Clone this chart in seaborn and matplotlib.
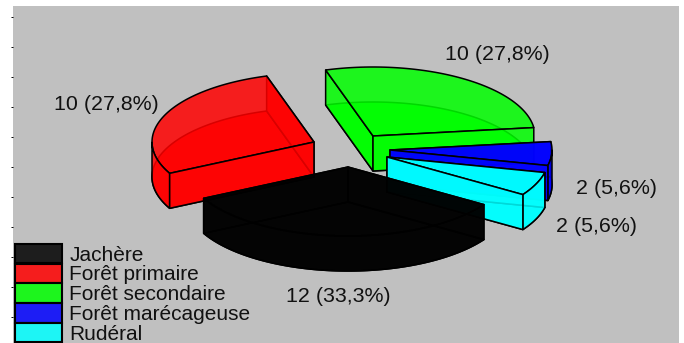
import numpy as np
import matplotlib
matplotlib.use("Agg")
import matplotlib.pyplot as plt
from matplotlib.colors import to_rgba
from matplotlib.patches import Polygon, Patch
import seaborn as sns

categories = ["Jachère", "Forêt primaire", "Forêt secondaire", "Forêt marécageuse", "Rudéral"]
counts = [12, 10, 10, 2, 2]
percent_labels = ["12 (33,3%)", "10 (27,8%)", "10 (27,8%)", "2 (5,6%)", "2 (5,6%)"]
slice_colors = ["#000000", "#ff0000", "#00ff00", "#0000ff", "#00ffff"]

# Pie geometry, in panel pixels
RX, RY, DEPTH = 162, 69, 35
START_ANGLE = -33.0
centers = [(348, 167), (314, 142), (373, 136), (390, 150), (387, 157)]
label_spots = [(338, 296), (106, 104), (497, 55), (616, 189), (596, 227)]
draw_order = [1, 2, 3, 4, 0]
ALPHA = 0.85
LW = 1.1

sns.set_theme(style="white", rc={"font.family": ["Liberation Sans", "DejaVu Sans"]})
fig = plt.figure(figsize=(6.84, 3.43), dpi=100, facecolor="white")
ax = fig.add_axes([13 / 684, 0, 665.5 / 684, 337 / 343])
ax.set_facecolor("#c0c0c0")
ax.set_xlim(13, 678.5)
ax.set_ylim(343, 6)
for side in ax.spines.values():
    side.set_visible(False)
ax.set_xticks([])
ax.set_yticks(np.arange(17, 343, 30))
ax.set_yticklabels([])
ax.tick_params(axis="y", left=True, length=1.5, width=0.7, color="black", pad=0)


def rim(center, angles_deg, drop=0):
    angles = np.radians(angles_deg)
    return np.column_stack([center[0] + RX * np.cos(angles),
                            center[1] - RY * np.sin(angles) + drop])


def face(points, color, z):
    ax.add_patch(Polygon(points, closed=True, facecolor=to_rgba(color, ALPHA),
                         edgecolor="black", linewidth=LW, joinstyle="round", zorder=z))


def cut_face(center, angle, color, z):
    apex = np.array([center])
    edge = rim(center, [angle])
    low_edge = rim(center, [angle], DEPTH)
    face(np.vstack([apex, edge, low_edge, apex + [0, DEPTH]]), color, z)


# Each slice runs clockwise from the previous one
shares = np.array(counts) / sum(counts) * 360
ends = START_ANGLE - np.cumsum(shares)
starts = ends + shares

for rank, i in enumerate(draw_order):
    c, a0, a1, col = centers[i], starts[i], ends[i], slice_colors[i]
    z = 2 + rank
    sweep = np.linspace(a0, a1, 300)
    apex = np.array([c])
    # the cut whose rim point sits lower on screen faces the viewer
    near, far = (a0, a1) if np.sin(np.radians(a0)) < np.sin(np.radians(a1)) else (a1, a0)
    face(np.vstack([apex + [0, DEPTH], rim(c, sweep, DEPTH)]), col, z + 0.1)  # underside
    cut_face(c, far, col, z + 0.2)
    face(np.vstack([apex, rim(c, sweep)]), col, z + 0.3)  # top face
    # only the part of the outer wall that faces the viewer is painted
    front = sweep[np.sin(np.radians(sweep)) < 0]
    if front.size:
        face(np.vstack([rim(c, front), rim(c, front, DEPTH)[::-1]]), col, z + 0.4)
    cut_face(c, near, col, z + 0.5)

for text, (x, y) in zip(percent_labels, label_spots):
    ax.text(x, y, text, ha="center", va="center", fontsize=15.4, color="#111111", zorder=10)

handles = [Patch(facecolor=to_rgba(col, ALPHA), edgecolor="black", linewidth=1.5)
           for col in slice_colors]
ax.legend(handles, categories, loc="upper left", bbox_to_anchor=(15.5, 244), bbox_transform=ax.transData,
          frameon=False, fontsize=15, handlelength=2.25, handleheight=1.05, handletextpad=0.34,
          labelspacing=-0.05, borderaxespad=0, borderpad=0, labelcolor="#111111")

fig.savefig("out.png", dpi=100, facecolor="white")
